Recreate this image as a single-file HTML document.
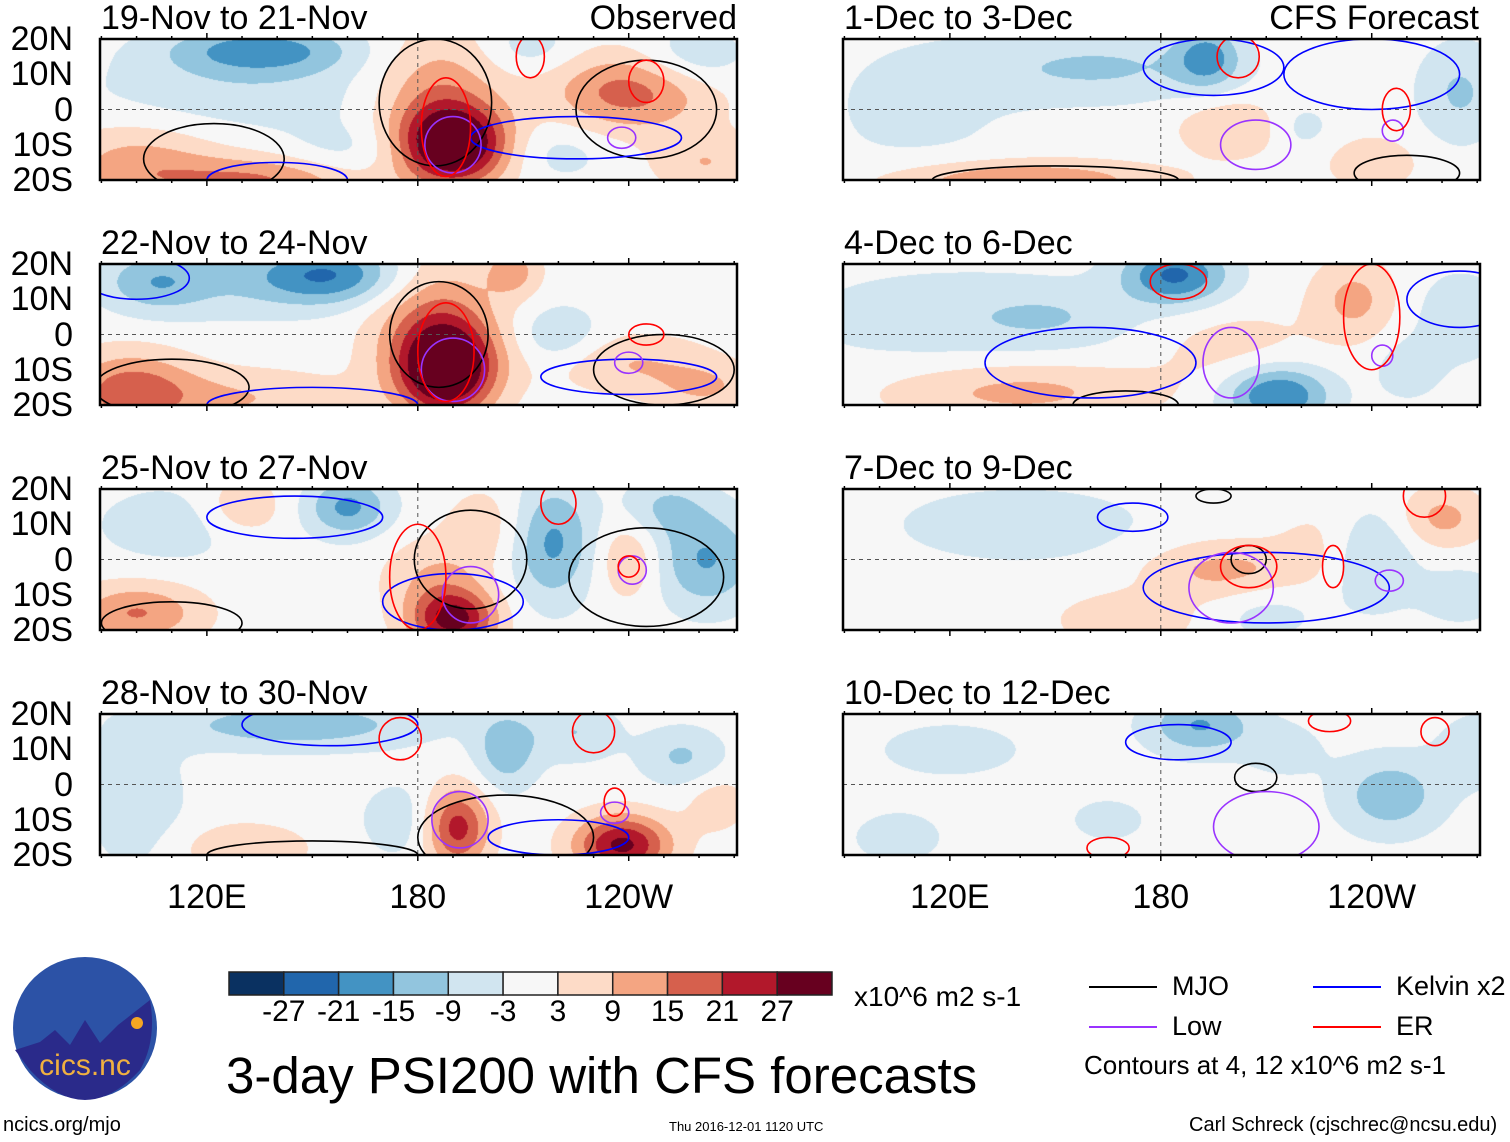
<!DOCTYPE html>
<html><head><meta charset="utf-8">
<style>
body{margin:0;background:#fff;width:1510px;height:1142px;overflow:hidden;position:relative;font-family:"Liberation Sans",sans-serif;}
.t{position:absolute;white-space:nowrap;color:#000;line-height:1;}
canvas{position:absolute;}
svg{position:absolute;left:0;top:0;}
</style></head>
<body>
<svg id="ov" width="1510" height="1142"></svg>
<script>
// ---- data ----
const titles=["19-Nov to 21-Nov","22-Nov to 24-Nov","25-Nov to 27-Nov","28-Nov to 30-Nov","1-Dec to 3-Dec","4-Dec to 6-Dec","7-Dec to 9-Dec","10-Dec to 12-Dec"];
const latLabels=["20N","10N","0","10S","20S"];
const latValues=[20,10,0,-10,-20];
const lonLabels=["120E","180","120W"];
const lonValues=[120,180,240];
const levels=[-27,-21,-15,-9,-3,3,9,15,21,27];
const colors=["#0a3161","#2166ac","#4393c3","#92c5de","#d1e5f0","#f7f7f7","#fddbc7","#f4a582","#d6604d","#b2182b","#67001f"];
// blobs: [lon, lat, amplitude, lonRadius, latRadius]
const blobs1=[[190,-10,34,10,8],[185,5,12,12,12],[135,17,-16,18,5],[130,5,-6,30,8],[100,-15,10,15,8],[135,-20,14,20,5],[240,5,16,15,8],[258,15,-8,10,6],[220,-12,-5,10,6],[262,-15,8,10,6],[160,-12,-5,12,6],[212,18,-6,8,5]];
const blobs2=[[188,-10,32,9,9],[185,3,14,12,14],[155,17,-18,14,6],[125,15,-6,20,8],[98,-16,16,12,8],[130,-18,8,20,6],[220,0,-8,8,6],[240,-8,8,15,6],[262,-15,8,10,5],[207,18,10,5,5],[105,15,-10,10,6]];
const blobs3=[[190,-17,26,8,6],[185,-5,8,10,8],[160,15,-15,8,6],[218,5,-15,8,12],[240,0,9,6,8],[262,0,-14,10,10],[100,-15,14,12,6],[130,15,8,8,6],[200,10,6,8,8],[110,10,-6,15,8],[250,15,-8,8,6]];
const blobs4=[[191,-12,22,6,8],[238,-17,26,9,6],[145,17,-12,25,5],[205,10,-12,6,8],[225,15,-8,8,6],[130,-18,8,12,5],[100,-5,-6,10,15],[255,8,-9,8,6],[265,-5,6,6,6],[175,-10,-6,8,8]];
const blobs5=[[162,12,-9,25,7],[193,15,-14,6,6],[200,-5,8,10,6],[140,-20,14,25,4],[265,5,-9,8,10],[240,-15,8,8,5],[110,0,-4,20,15],[220,-5,-5,6,5]];
const blobs6=[[184,17,-20,10,6],[213,-17,-20,10,6],[140,-16,10,25,6],[235,10,10,8,8],[200,-3,5,15,8],[265,5,-6,10,10],[120,5,-6,30,10],[250,-10,-6,6,6],[150,5,-5,15,6]];
const blobs7=[[198,-3,10,15,6],[140,10,-6,25,8],[240,0,-9,8,10],[260,12,10,8,6],[265,-10,-6,8,6],[170,-17,8,12,5],[210,-15,-5,10,6],[225,5,4,8,8]];
const blobs8=[[191,17,-14,10,6],[245,-3,-12,10,8],[215,10,-5,8,6],[105,-15,-5,10,6],[270,10,-6,8,8],[165,-10,-4,10,6],[120,10,-4,20,8]];
const allBlobs=[blobs1,blobs2,blobs3,blobs4,blobs5,blobs6,blobs7,blobs8];
// contours: [lon, lat, lonRadius, latRadius, type]  type: m=MJO k=Kelvin l=Low e=ER
const cont1=[[185,2,16,18,"m"],[122,-14,20,10,"m"],[245,0,20,14,"m"],[140,-20,20,5,"k"],[225,-8,30,6,"k"],[190,-10,8,8,"l"],[238,-8,4,3,"l"],[188,-5,7,14,"e"],[212,15,4,6,"e"],[245,8,5,6,"e"]];
const cont2=[[186,0,14,15,"m"],[110,-15,22,8,"m"],[250,-10,20,10,"m"],[100,16,15,6,"k"],[150,-20,30,5,"k"],[240,-12,25,5,"k"],[190,-10,9,9,"l"],[240,-8,4,3,"l"],[188,-5,8,14,"e"],[245,0,5,3,"e"]];
const cont3=[[195,0,16,14,"m"],[110,-18,20,6,"m"],[245,-5,22,14,"m"],[145,12,25,6,"k"],[190,-12,20,8,"k"],[195,-10,8,8,"l"],[241,-3,4,4,"l"],[180,-5,8,15,"e"],[240,-2,3,3,"e"],[220,16,5,6,"e"]];
const cont4=[[205,-15,25,12,"m"],[150,-20,30,4,"m"],[155,17,25,6,"k"],[220,-15,20,5,"k"],[192,-10,8,8,"l"],[236,-8,4,3,"l"],[175,13,6,6,"e"],[236,-5,3,4,"e"],[230,15,6,6,"e"]];
const cont5=[[150,-20,35,4,"m"],[250,-18,15,5,"m"],[195,12,20,8,"k"],[240,10,25,10,"k"],[207,-10,10,7,"l"],[246,-6,3,3,"l"],[202,15,6,6,"e"],[247,0,4,6,"e"]];
const cont6=[[170,-20,15,4,"m"],[160,-8,30,10,"k"],[265,10,15,8,"k"],[200,-8,8,10,"l"],[243,-6,3,3,"l"],[185,15,8,5,"e"],[240,5,8,15,"e"]];
const cont7=[[205,0,5,4,"m"],[195,18,5,2,"m"],[172,12,10,4,"k"],[210,-8,35,10,"k"],[200,-8,12,10,"l"],[245,-6,4,3,"l"],[205,-2,8,6,"e"],[229,-2,3,6,"e"],[255,18,6,6,"e"]];
const cont8=[[207,2,6,4,"m"],[185,12,15,5,"k"],[210,-12,15,10,"l"],[165,-18,6,3,"e"],[228,18,6,3,"e"],[258,15,4,4,"e"]];
const allCont=[cont1,cont2,cont3,cont4,cont5,cont6,cont7,cont8];

const contColor={m:"#000",k:"#0000ff",l:"#9933ff",e:"#ff0000"};
const panelX=[100,100,100,100,843,843,843,843];
const panelY=[39,264,489,714,39,264,489,714];
const PW=637,PH=141;
const lon0=89.6,lonSpan=181.2;
function xs(p,lon){return panelX[p]+(lon-lon0)/lonSpan*PW;}
function ys(p,lat){return panelY[p]+(20-lat)/40*PH;}
function hex(c){return [parseInt(c.substr(1,2),16),parseInt(c.substr(3,2),16),parseInt(c.substr(5,2),16)];}
const NS="http://www.w3.org/2000/svg";
const ov=document.getElementById('ov');
function sv(tag,attrs,parent){const e=document.createElementNS(NS,tag);for(const k in attrs)e.setAttribute(k,attrs[k]);(parent||ov).appendChild(e);return e;}
function txt(s,x,y,size,name,align){const d=document.createElement('div');d.className='t';d.textContent=s;d.style.fontSize=size+'px';d.style.top=y+'px';
 if(align==='r'){d.style.right=(1510-x)+'px';}else if(align==='c'){d.style.left=x+'px';d.style.transform='translateX(-50%)';}else d.style.left=x+'px';
 
 
 document.body.appendChild(d);return d;}

for(let p=0;p<8;p++){
 const cv=document.createElement('canvas');cv.width=PW;cv.height=PH;cv.style.left=panelX[p]+'px';cv.style.top=panelY[p]+'px';
 
 
 document.body.insertBefore(cv,ov);
 const ctx=cv.getContext('2d');const img=ctx.createImageData(PW,PH);const B=allBlobs[p];
 const pal=colors.map(hex);
 for(let j=0;j<PH;j++){const lat=20-j/PH*40;for(let i=0;i<PW;i++){const lon=lon0+i/PW*lonSpan;let v=0;
  for(const b of B){const dx=(lon-b[0])/(b[3]*1.5),dy=(lat-b[1])/(b[4]*1.4);v+=b[2]*1.1*Math.exp(-(dx*dx+dy*dy));}
  let k=0;while(k<levels.length&&v>=levels[k])k++;const c=pal[k];const o=(j*PW+i)*4;img.data[o]=c[0];img.data[o+1]=c[1];img.data[o+2]=c[2];img.data[o+3]=255;}}
 ctx.putImageData(img,0,0);
 const g=sv('g',{});
 
 
 const cid='clip'+p;const cp=sv('clipPath',{id:cid},g);sv('rect',{x:panelX[p],y:panelY[p],width:PW,height:PH},cp);
 const cg=sv('g',{'clip-path':'url(#'+cid+')'},g);
 const eq=sv('line',{x1:panelX[p],x2:panelX[p]+PW,y1:ys(p,0),y2:ys(p,0),stroke:'#555','stroke-dasharray':'4,4','stroke-width':1},cg);
 
 
 const dl=sv('line',{x1:xs(p,180),x2:xs(p,180),y1:panelY[p],y2:panelY[p]+PH,stroke:'#555','stroke-dasharray':'4,4','stroke-width':1},cg);
 
 
 for(const c of allCont[p]){
  const e=sv('ellipse',{cx:xs(p,c[0]),cy:ys(p,c[1]),rx:c[2]/lonSpan*PW,ry:c[3]/40*PH,fill:'none',stroke:contColor[c[4]],'stroke-width':1.6},cg);
  
  
 }
 const fr=sv('rect',{x:panelX[p],y:panelY[p],width:PW,height:PH,fill:'none',stroke:'#000','stroke-width':2.5},g);
 
 
 for(let lon=90;lon<=270;lon+=10){const big=lonValues.includes(lon);const x=xs(p,lon);
  sv('line',{x1:x,x2:x,y1:panelY[p],y2:panelY[p]-(big?6:3),stroke:'#000','stroke-width':1.5},g);
  sv('line',{x1:x,x2:x,y1:panelY[p]+PH,y2:panelY[p]+PH+(big?6:3),stroke:'#000','stroke-width':1.5},g);}
 txt(titles[p],panelX[p]+1,panelY[p]-38,34,'panel-title-'+(p+1));
 if(p===0)txt('Observed',737,1,34,'observed-label','r');
 if(p===4)txt('CFS Forecast',1479,1,34,'cfs-forecast-label','r');
 if(p<4){latValues.forEach((la,i)=>{txt(latLabels[i],73,ys(p,la)-17,34,'lat-label','r');});}
 if(p===3||p===7){lonValues.forEach((lo,i)=>{txt(lonLabels[i],xs(p,lo),880,34,'lon-label','c');});}
}
// colorbar
const cbX=229,cbY=972,cbW=603,cbH=23;const bw=cbW/colors.length;
colors.forEach((c,i)=>{const r=sv('rect',{x:cbX+i*bw,y:cbY,width:bw,height:cbH,fill:c,stroke:'#222','stroke-width':1.5});
 
 });
levels.forEach((l,i)=>{txt(String(l),cbX+(i+1)*bw,997,30,'colorbar-label','c');});
txt('x10^6 m2 s-1',854,983,28,'units-label');
// legend
const leg=[["MJO","#000",1089,987],["Kelvin x2","#0000ff",1313,987],["Low","#9933ff",1089,1027],["ER","#ff0000",1313,1027]];
leg.forEach(l=>{const ln=sv('line',{x1:l[2],x2:l[2]+68,y1:l[3],y2:l[3],stroke:l[1],'stroke-width':2});
 
 
 txt(l[0],l[2]+83,l[3]-14,27,'legend-entry');});
txt('Contours at 4, 12 x10^6 m2 s-1',1084,1052,26,'contour-note');
txt('3-day PSI200 with CFS forecasts',226,1050,51,'figure-title');
txt('ncics.org/mjo',3,1115,20,'url-label');
txt('Thu 2016-12-01 1120 UTC',669,1120,13,'timestamp');
txt('Carl Schreck (cjschrec@ncsu.edu)',1189,1115,20,'author-label');
// logo
const lg=sv('g',{});


sv('ellipse',{cx:85,cy:1028,rx:72,ry:71,fill:'#2c52a6'},lg);
sv('path',{d:'M15 1050 L40 1042 L55 1030 L70 1045 L85 1020 L100 1043 L118 1025 L150 1000 Q157 1040 140 1070 Q85 1130 30 1070 Z',fill:'#2a2a8a'},lg);
sv('circle',{cx:137,cy:1023,r:6,fill:'#f5a623'},lg);
const lt=sv('text',{x:85,y:1075,'text-anchor':'middle','font-size':30,fill:'#f0b040','font-family':'Liberation Sans, sans-serif'},lg);lt.textContent='cics.nc';
</script>
</body></html>
